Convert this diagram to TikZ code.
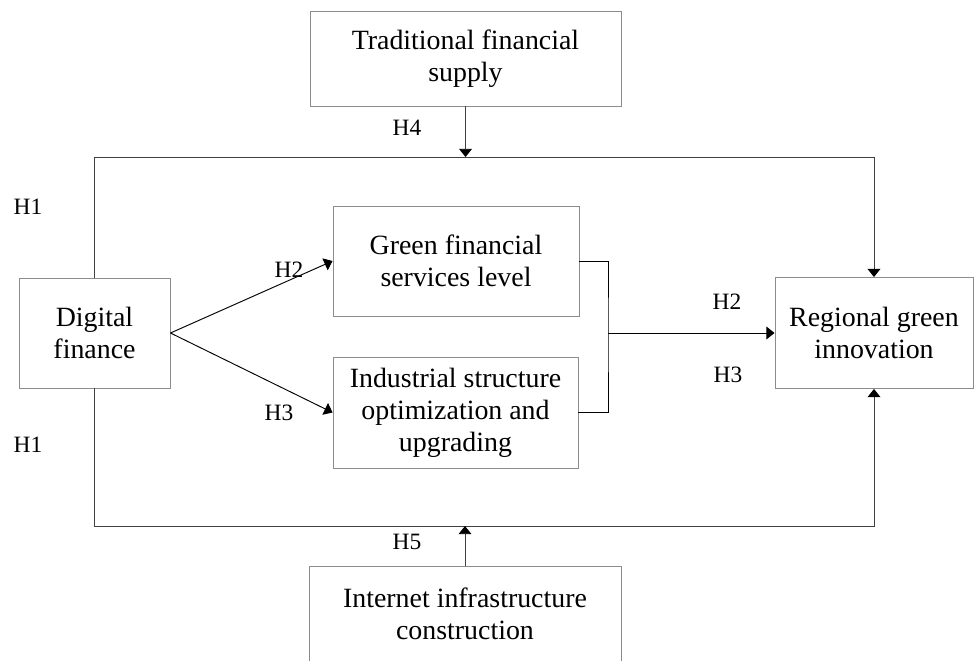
\documentclass[tikz,border=0pt]{standalone}
\usepackage{fontspec}
\setmainfont{Liberation Serif}
\usepackage{xcolor}
\usepackage{tikz}
\usetikzlibrary{arrows.meta, positioning, calc}
\definecolor{boxdraw}{HTML}{8C8C8C}
\definecolor{linedraw}{HTML}{404040}
\tikzset{
  blk/.style={rectangle, draw=boxdraw, line width=0.8pt, align=center, inner sep=2pt, font=\fontsize{23.8}{27.3}\selectfont},
  lab/.style={font=\fontsize{20}{24}\selectfont, inner sep=0pt},
  rail/.style={line width=0.8pt, draw=linedraw},
  arr/.style={-{Triangle[length=7pt, width=11pt]}, line width=0.8pt, draw=black},
  railarr/.style={arr, draw=linedraw, -{Triangle[length=7pt, width=11pt, color=black]}},
}

\begin{document}
\begin{tikzpicture}[x=0.03cm, y=-0.03cm]
  \useasboundingbox (0,0) rectangle (974,660);
  % boxes
  \node[blk, minimum width=9.33cm, minimum height=2.85cm] (trad) at (465.5,58.5) {Traditional financial\\supply};
  \node[blk, minimum width=4.53cm, minimum height=3.3cm] (digi) at (94.5,333) {Digital\\finance};
  \node[blk, minimum width=7.38cm, minimum height=3.3cm] (green) at (456,261) {Green financial\\services level};
  \node[blk, minimum width=7.35cm, minimum height=3.33cm] (indus) at (455.5,412.5) {Industrial structure\\optimization and\\upgrading};
  \node[blk, minimum width=5.94cm, minimum height=3.33cm] (region) at (874,333) {Regional green\\innovation};
  \node[blk, minimum width=9.36cm, minimum height=2.85cm] (inet) at (465,614) {Internet infrastructure\\construction};
  % rails
  \coordinate (toprail) at (0,157);
  \coordinate (botrail) at (0,526);
  \coordinate (join) at (608,333);
  \draw[railarr] (digi.north) -- (digi.north |- toprail) -| (region.north);
  \draw[railarr] (digi.south) -- (digi.south |- botrail) -| (region.south);
  \draw[railarr] (trad.south) -- (trad.south |- toprail);
  \draw[railarr] (inet.north) -- (inet.north |- botrail);
  % mediators
  \draw[arr] (digi.east) -- (green.west);
  \draw[arr] (digi.east) -- (indus.west);
  \draw[rail, draw=black] (green.east) -| (join) |- (indus.east);
  \draw[arr] (join) -- (region.west);
  % labels
  \node[lab] (h4) at (407,128) {H4};
  \node[lab] (h1a) at (28,207) {H1};
  \node[lab] (h1b) at (28,445) {H1};
  \node[lab] (h2a) at (289,270) {H2};
  \node[lab] (h3a) at (279,413) {H3};
  \node[lab] (h2b) at (727,302) {H2};
  \node[lab] (h3b) at (728,375) {H3};
  \node[lab] (h5) at (407,542) {H5};
\end{tikzpicture}
\end{document}
